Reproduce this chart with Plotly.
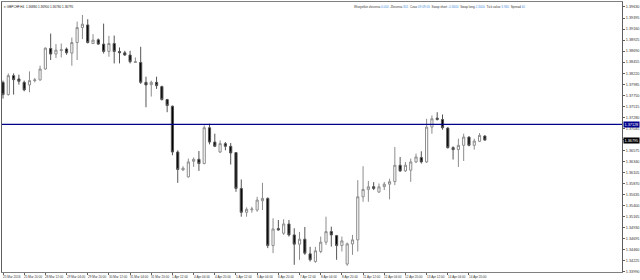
import plotly.graph_objects as go

# ---- data (GBPCHF, H4) ----
bar_index = list(range(92))
opens = [1.38025, 1.37764, 1.38167, 1.38097, 1.38025, 1.37970, 1.38061, 1.38076, 1.38309, 1.38746,
         1.38627, 1.38703, 1.38733, 1.38648, 1.38873, 1.39191, 1.39248, 1.38852, 1.38930, 1.38839,
         1.38682, 1.38852, 1.38682, 1.38655, 1.38606, 1.38449, 1.38449, 1.38025, 1.37976, 1.38025,
         1.37934, 1.37658, 1.37516, 1.36541, 1.36159, 1.36011, 1.36344, 1.36386, 1.36295, 1.37058,
         1.36753, 1.36541, 1.36719, 1.36662, 1.36528, 1.35765, 1.35256, 1.35311, 1.35305, 1.35502,
         1.35553, 1.34548, 1.34909, 1.34811, 1.35008, 1.34775, 1.34578, 1.34684, 1.34372, 1.34209,
         1.34421, 1.34620, 1.34845, 1.34760, 1.34548, 1.34154, 1.34584, 1.34669, 1.35587, 1.35744,
         1.35803, 1.35687, 1.35803, 1.35856, 1.35909, 1.36259, 1.36138, 1.36153, 1.36329, 1.36422,
         1.36329, 1.37071, 1.37262, 1.37234, 1.37050, 1.36634, 1.36592, 1.36683, 1.36859, 1.36683,
         1.36768, 1.36880]
highs = [1.38061, 1.38216, 1.38216, 1.38188, 1.38061, 1.38258, 1.38118, 1.38379, 1.38767, 1.39064,
         1.38839, 1.38852, 1.38767, 1.38979, 1.39318, 1.39460, 1.39369, 1.39051, 1.38958, 1.39276,
         1.39015, 1.39021, 1.38767, 1.38697, 1.38697, 1.38555, 1.38782, 1.38146, 1.38061, 1.38146,
         1.37955, 1.37673, 1.37531, 1.36577, 1.36238, 1.36401, 1.36422, 1.36562, 1.37107, 1.37143,
         1.36931, 1.36789, 1.36753, 1.36732, 1.36541, 1.35956, 1.35362, 1.35375, 1.35587, 1.35884,
         1.35574, 1.35129, 1.35093, 1.35108, 1.35093, 1.34917, 1.34839, 1.34945, 1.34521, 1.34521,
         1.34739, 1.35163, 1.34951, 1.34775, 1.34739, 1.34612, 1.34775, 1.35941, 1.36238, 1.35926,
         1.35899, 1.35871, 1.35905, 1.35973, 1.36647, 1.36435, 1.36329, 1.36401, 1.36507, 1.36556,
         1.37249, 1.37319, 1.37389, 1.37340, 1.37071, 1.36662, 1.36825, 1.36931, 1.36874, 1.36825,
         1.36944, 1.36900]
lows = [1.37679, 1.37743, 1.37764, 1.37976, 1.37834, 1.37813, 1.38025, 1.38061, 1.38294, 1.38500,
        1.38542, 1.38555, 1.38612, 1.38379, 1.38500, 1.38945, 1.38852, 1.38839, 1.38824, 1.38640,
        1.38570, 1.38428, 1.38428, 1.38591, 1.38428, 1.38443, 1.37991, 1.37495, 1.37722, 1.37885,
        1.37637, 1.37389, 1.36471, 1.35884, 1.36138, 1.35998, 1.36223, 1.36138, 1.36280, 1.36704,
        1.36647, 1.36520, 1.36577, 1.36274, 1.35693, 1.35163, 1.35163, 1.35248, 1.35269, 1.35305,
        1.34493, 1.34387, 1.34866, 1.34775, 1.34739, 1.34139, 1.34245, 1.34351, 1.34209, 1.34181,
        1.34387, 1.34563, 1.34527, 1.34245, 1.34421, 1.34118, 1.34351, 1.34421, 1.35481, 1.35481,
        1.35729, 1.35672, 1.35729, 1.35532, 1.35835, 1.36117, 1.36117, 1.35905, 1.36308, 1.36295,
        1.36308, 1.36931, 1.37213, 1.37016, 1.36613, 1.36380, 1.36223, 1.36350, 1.36662, 1.36592,
        1.36753, 1.36780]
closes = [1.37764, 1.38167, 1.38082, 1.38046, 1.37864, 1.38061, 1.38076, 1.38309, 1.38754, 1.38627,
          1.38712, 1.38718, 1.38655, 1.38873, 1.39191, 1.39263, 1.38873, 1.38924, 1.38839, 1.38682,
          1.38852, 1.38682, 1.38655, 1.38606, 1.38464, 1.38464, 1.38025, 1.37970, 1.38025, 1.37955,
          1.37658, 1.37531, 1.36541, 1.36168, 1.36195, 1.36329, 1.36386, 1.36295, 1.37058, 1.36753,
          1.36662, 1.36719, 1.36662, 1.36520, 1.35765, 1.35256, 1.35320, 1.35326, 1.35517, 1.35553,
          1.34548, 1.34902, 1.34881, 1.35008, 1.34775, 1.34578, 1.34684, 1.34387, 1.34245, 1.34436,
          1.34620, 1.34845, 1.34775, 1.34548, 1.34648, 1.34584, 1.34669, 1.35587, 1.35744, 1.35799,
          1.35765, 1.35799, 1.35856, 1.35909, 1.36259, 1.36138, 1.36259, 1.36329, 1.36435, 1.36329,
          1.37071, 1.37249, 1.37234, 1.37058, 1.36634, 1.36592, 1.36683, 1.36859, 1.36683, 1.36774,
          1.36895, 1.36795]

time_tick_bars = [0, 4, 8, 12, 16, 20, 24, 28, 32, 36, 40, 44, 48, 52, 56, 60, 64, 68, 72, 76, 80, 84, 88]
time_tick_labels = ["25 Mar 2016", "25 Mar 20:00", "28 Mar 12:00", "29 Mar 04:00", "29 Mar 20:00",
                    "30 Mar 12:00", "31 Mar 04:00", "31 Mar 20:00", "1 Apr 12:00", "4 Apr 04:00",
                    "4 Apr 20:00", "5 Apr 12:00", "6 Apr 04:00", "6 Apr 20:00", "7 Apr 12:00",
                    "8 Apr 04:00", "8 Apr 20:00", "11 Apr 12:00", "12 Apr 04:00", "12 Apr 20:00",
                    "13 Apr 12:00", "14 Apr 04:00", "14 Apr 20:00"]

price_ticks = [1.39630, 1.39395, 1.39160, 1.38925, 1.38690, 1.38455, 1.38220, 1.37985, 1.37750,
               1.37515, 1.37280, 1.37045, 1.36810, 1.36575, 1.36340, 1.36105, 1.35870, 1.35635,
               1.35400, 1.35165, 1.34930, 1.34695, 1.34460, 1.34225, 1.33990]
price_tick_labels = ["%.5f" % p for p in price_ticks]

hline_price = 1.37128
last_price = 1.36795
title_text = "▾ GBPCHF,H4  1.36880 1.36900 1.36780 1.36795"
info_items = [("Wszystkie zlecenia", "0.000"), ("Zlecenia", "301"), ("Czas", "09:09:05"),
              ("Swap short", "-0.3600"), ("Swap long", "2.3400"), ("Tick value", "3.940"),
              ("Spread", "40")]

# ---- figure ----
fig = go.Figure()
fig.add_trace(go.Candlestick(
    x=bar_index, open=opens, high=highs, low=lows, close=closes,
    increasing=dict(line=dict(color="#8c8c8c", width=1), fillcolor="#ffffff"),
    decreasing=dict(line=dict(color="#555555", width=1), fillcolor="#000000"),
    whiskerwidth=0, hoverinfo="skip", showlegend=False,
))

fig.add_shape(type="line", xref="paper", x0=0, x1=1, yref="y", y0=hline_price, y1=hline_price,
              line=dict(color="#00008b", width=1.3))

small = dict(family="Liberation Sans, Arial, sans-serif", size=3.1, color="#333333")
annotations = []
for b, lab in zip(time_tick_bars, time_tick_labels):
    annotations.append(dict(x=b, xref="x", y=0, yref="paper", yanchor="top", xanchor="left",
                            text=lab, showarrow=False, font=small, yshift=-1.5, xshift=-1,
                            borderpad=0))
annotations.append(dict(x=0, xref="paper", y=1, yref="paper", xanchor="left", yanchor="top",
                        text=title_text, showarrow=False, font=dict(small, color="#222222"),
                        xshift=1, yshift=-1.5, borderpad=0))
info_text = "  ".join("%s <span style='color:#4a90d9'>%s</span>" % (k, v) for k, v in info_items)
annotations.append(dict(x=(528 - 1) / 624, xref="paper", y=1, yref="paper", xanchor="right",
                        yanchor="top", text=info_text, showarrow=False,
                        font=dict(small, color="#333333"), yshift=-1.5, borderpad=0))
annotations.append(dict(x=1, xref="paper", y=hline_price, yref="y", xanchor="left", yanchor="middle",
                        text="%.5f" % hline_price, showarrow=False, bgcolor="#00008b",
                        font=dict(small, color="#ffffff", size=3.8), borderpad=0.5, xshift=1))
annotations.append(dict(x=1, xref="paper", y=last_price, yref="y", xanchor="left", yanchor="middle",
                        text="%.5f" % last_price, showarrow=False, bgcolor="#000000",
                        font=dict(small, color="#ffffff", size=3.8), borderpad=0.5, xshift=1))

fig.update_layout(
    width=640, height=280,
    margin=dict(l=1, r=15, t=1, b=8, pad=0),
    paper_bgcolor="#ffffff", plot_bgcolor="#ffffff",
    boxgap=0.42,
    showlegend=False,
    annotations=annotations,
    hovermode=False,
    xaxis=dict(range=[-0.19, 116.9], rangeslider=dict(visible=False), showgrid=False,
               zeroline=False, showline=True, mirror=True, linecolor="#808080", linewidth=1,
               tickmode="array", tickvals=time_tick_bars, ticktext=[""] * len(time_tick_bars),
               ticks="outside", ticklen=2, tickcolor="#606060", fixedrange=True),
    yaxis=dict(range=[1.33985, 1.39736], side="right", showgrid=False, zeroline=False,
               showline=True, mirror=True, linecolor="#606060", linewidth=1,
               tickmode="array", tickvals=price_ticks, ticktext=price_tick_labels,
               ticks="outside", ticklen=2, tickcolor="#606060",
               tickfont=dict(family="Liberation Sans, Arial, sans-serif", size=3.8, color="#333333"),
               fixedrange=True),
)

fig.write_html("out.html", config={"displayModeBar": False, "staticPlot": True})
